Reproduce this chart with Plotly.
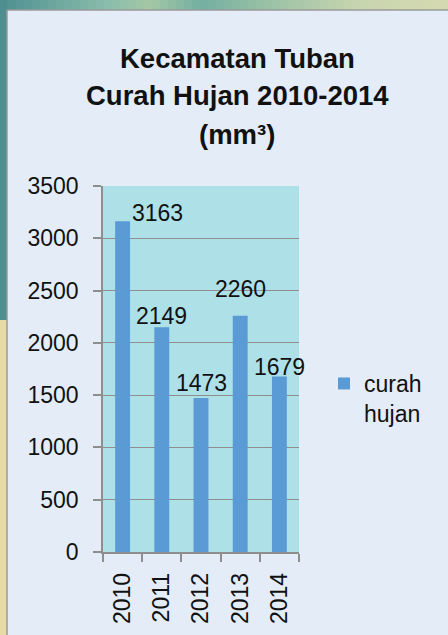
import plotly.graph_objects as go

# ---- data ----
years = ["2010", "2011", "2012", "2013", "2014"]
rainfall = [3163, 2149, 1473, 2260, 1679]
series_name = "curah<br>hujan"
title_lines = ["Kecamatan Tuban", "Curah Hujan 2010-2014", "(mm³)"]
y_ticks = [0, 500, 1000, 1500, 2000, 2500, 3000, 3500]

# label placement tweaks (pixels): horizontal shift, vertical lift above bar top
label_dx = [35, 0, 0, 0, 0]
label_lift = [8, 11, 15, 27, 9.5]

W, H = 448, 635
ML, MR, MT, MB = 103, 149, 186, 83
PW, PH = W - ML - MR, H - MT - MB


def px(x):
    return (x - ML) / PW


def py(y):
    return (H - MB - y) / PH


FONT = "Liberation Sans, Arial, sans-serif"
BAR = "#5B9BD5"
GRID = "#8E8E8E"

fig = go.Figure()
fig.add_trace(go.Bar(
    x=years, y=rainfall, name=series_name, marker_color=BAR,
    marker_line_width=0, showlegend=True,
))

shapes = []
# top decorative strip (gradient teal -> green -> pale yellow)
stops = [(0, (78, 144, 146)), (110, (140, 190, 172)), (150, (165, 200, 165)),
         (200, (115, 175, 162)), (260, (150, 192, 165)), (360, (200, 214, 176)),
         (448, (214, 218, 178))]
n = 56
for i in range(n):
    x0 = W * i / n
    x1 = W * (i + 1) / n
    xm = (x0 + x1) / 2
    for j in range(len(stops) - 1):
        if stops[j][0] <= xm <= stops[j + 1][0]:
            t = (xm - stops[j][0]) / (stops[j + 1][0] - stops[j][0])
            c = tuple(int(stops[j][1][k] + t * (stops[j + 1][1][k] - stops[j][1][k])) for k in range(3))
            break
    shapes.append(dict(type="rect", xref="paper", yref="paper", x0=px(x0), x1=px(x1) + 0.002,
                       y0=py(10), y1=py(0), fillcolor="rgb(%d,%d,%d)" % c, line_width=0, layer="below"))
# left strip: teal upper part, pale yellow lower part
shapes.append(dict(type="rect", xref="paper", yref="paper", x0=px(0), x1=px(7), y0=py(320), y1=py(0),
                   fillcolor="#4F8E8E", line_width=0, layer="below"))
shapes.append(dict(type="rect", xref="paper", yref="paper", x0=px(0), x1=px(7), y0=py(H), y1=py(320),
                   fillcolor="#E6DAA6", line_width=0, layer="below"))
# gray frame of the slide panel
shapes.append(dict(type="line", xref="paper", yref="paper", x0=px(7), x1=px(W), y0=py(10), y1=py(10),
                   line=dict(color="#9A9A9A", width=1.5), layer="below"))
shapes.append(dict(type="line", xref="paper", yref="paper", x0=px(7), x1=px(7), y0=py(10), y1=py(H),
                   line=dict(color="#9A9A9A", width=1.5), layer="below"))

annotations = []
title_y = [58, 96, 134]
for line, yy in zip(title_lines, title_y):
    annotations.append(dict(text="<b>%s</b>" % line, xref="paper", yref="paper", x=px(237), y=py(yy),
                            xanchor="center", yanchor="middle", showarrow=False,
                            font=dict(family=FONT, size=27.5, color="#111111")))
for i, (v, dx, lift) in enumerate(zip(rainfall, label_dx, label_lift)):
    annotations.append(dict(text=str(v), x=i, y=v, xref="x", yref="y", showarrow=False,
                            xanchor="center", yanchor="middle", xshift=dx, yshift=lift,
                            font=dict(family=FONT, size=23, color="#111111")))

fig.update_layout(
    width=W, height=H, autosize=False,
    margin=dict(l=ML, r=MR, t=MT, b=MB, autoexpand=False),
    paper_bgcolor="#E3ECF7",
    plot_bgcolor="#AEE0E8",
    font=dict(family=FONT, size=23, color="#111111"),
    bargap=0.62,
    shapes=shapes,
    annotations=annotations,
    legend=dict(x=px(324), y=py(362), xanchor="left", yanchor="top", bgcolor="rgba(0,0,0,0)",
                font=dict(family=FONT, size=23, color="#111111"), valign="top",
                itemwidth=30, tracegroupgap=0),
    xaxis=dict(type="category", range=[-0.5, len(years) - 0.5], tickangle=-90, showgrid=False,
               showline=True, linecolor=GRID, linewidth=1.5,
               ticks="outside", tickson="boundaries", ticklen=8, tickcolor=GRID, tickwidth=1.5,
               tickfont=dict(family=FONT, size=23, color="#111111"), ticklabelstandoff=10, fixedrange=True),
    yaxis=dict(range=[0, 3500], tickvals=y_ticks, showgrid=True, gridcolor=GRID, gridwidth=1,
               showline=True, linecolor=GRID, linewidth=1.5, zeroline=False,
               ticks="outside", ticklen=8, tickcolor=GRID, tickwidth=1.5,
               tickfont=dict(family=FONT, size=23, color="#111111"), ticklabelstandoff=10, fixedrange=True),
)

fig.write_html("out.html", config={"displayModeBar": False},
               post_script="document.body.style.margin='0';document.body.style.padding='0';")
